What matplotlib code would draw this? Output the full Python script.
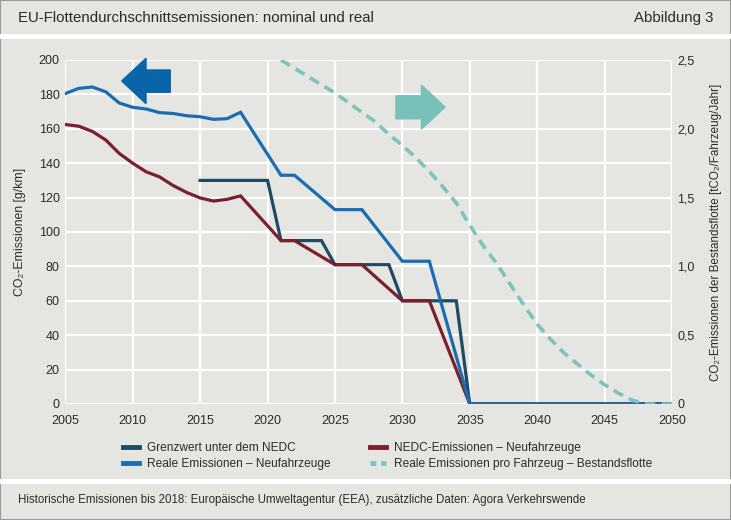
import matplotlib
matplotlib.use("Agg")
import matplotlib.pyplot as plt
from matplotlib.patches import Polygon, Rectangle
from matplotlib.lines import Line2D

plt.rcParams['font.family'] = ['Liberation Sans', 'DejaVu Sans']

# data
grenz_years = [2015, 2020, 2021, 2024, 2025, 2029, 2030, 2034, 2035, 2050]
grenz_vals = [130, 130, 95, 95, 81, 81, 60, 60, 0, 0]

nedc_years = [2005, 2006, 2007, 2008, 2009, 2010, 2011, 2012, 2013, 2014, 2015, 2016, 2017, 2018,
              2021, 2022, 2025, 2027, 2030, 2032, 2035, 2050]
nedc_vals = [162.5, 161.5, 158.5, 153.5, 145.7, 140, 135, 132, 127, 123, 119.8, 118, 119, 121,
             95, 95, 81, 81, 60, 60, 0, 0]

real_years = [2005, 2006, 2007, 2008, 2009, 2010, 2011, 2012, 2013, 2014, 2015, 2016, 2017, 2018,
              2021, 2022, 2025, 2027, 2030, 2032, 2035, 2050]
real_vals = [180.5, 183.5, 184.3, 181.5, 175, 172.5, 171.5, 169.4, 168.9, 167.6, 167, 165.5, 165.9, 169.6,
             133, 133, 113, 113, 83, 83, 0, 0]

fleet_years = list(range(2021, 2051))
fleet_vals = [2.50, 2.44, 2.38, 2.32, 2.26, 2.19, 2.12, 2.05, 1.96, 1.88,
              1.79, 1.69, 1.58, 1.46, 1.30, 1.15, 1.02, 0.87, 0.72, 0.58,
              0.47, 0.37, 0.29, 0.21, 0.14, 0.08, 0.03, 0.0, 0.0, 0.0]

x_ticks = list(range(2005, 2051, 5))
y_ticks = list(range(0, 201, 20))
y2_ticks = [0, 0.5, 1.0, 1.5, 2.0, 2.5]
y2_labels = ['0', '0,5', '1,0', '1,5', '2,0', '2,5']

c_navy = '#1f4a63'
c_red = '#7a1f2b'
c_blue = '#1a6db0'
c_teal = '#7dc3bc'
bg = '#e5e5e1'
txt = '#2b2b2b'

fig = plt.figure(figsize=(7.31, 5.2), dpi=100, facecolor=bg)
ax = fig.add_axes([65.3 / 731, 1 - 404 / 520, (672 - 65.3) / 731, 344 / 520])
ax.set_facecolor(bg)
ax2 = ax.twinx()

for s in list(ax.spines.values()) + list(ax2.spines.values()):
    s.set_visible(False)

ax.set_xlim(2005, 2050)
ax.set_ylim(0, 200)
ax2.set_ylim(0, 2.5)
ax.set_xticks(x_ticks)
ax.set_yticks(y_ticks)
ax2.set_yticks(y2_ticks)
ax2.set_yticklabels(y2_labels)
ax.grid(True, color='white', linewidth=1.6)
ax.set_axisbelow(True)
ax.tick_params(axis='both', length=0, labelsize=9, colors=txt)
ax.tick_params(axis='x', pad=8)
ax.tick_params(axis='y', pad=4)
ax2.tick_params(axis='y', length=0, labelsize=9, colors=txt, pad=4)

lw = 2.3
ax.plot(grenz_years, grenz_vals, color=c_navy, lw=lw, solid_joinstyle='miter', zorder=3)
ax.plot(nedc_years, nedc_vals, color=c_red, lw=lw, solid_joinstyle='miter', zorder=3)
ax.plot(real_years, real_vals, color=c_blue, lw=lw, solid_joinstyle='miter', zorder=4)
ax2.plot(fleet_years, fleet_vals, color=c_teal, lw=2.6, dashes=(2.9, 1.8), zorder=5)

ax.set_ylabel('CO₂-Emissionen [g/km]', fontsize=8.8, color=txt, labelpad=9)
ax2.set_ylabel('CO₂-Emissionen der Bestandsflotte [tCO₂/Fahrzeug/Jahr]', fontsize=8.4, color=txt, labelpad=11)

# arrows (axes fraction)
blue_arrow = [(0.093, 0.939), (0.133, 1.005), (0.133, 0.971), (0.173, 0.971),
              (0.173, 0.906), (0.133, 0.906), (0.133, 0.873)]
ax2.add_patch(Polygon(blue_arrow, closed=True, transform=ax.transAxes, color='#0a64a8', zorder=6, clip_on=False))
teal_arrow = [(0.545, 0.896), (0.587, 0.896), (0.587, 0.927), (0.626, 0.863),
              (0.587, 0.799), (0.587, 0.829), (0.545, 0.829)]
ax2.add_patch(Polygon(teal_arrow, closed=True, transform=ax.transAxes, color='#78c1ba', zorder=6))

# legend
handles = [Line2D([], [], color=c_navy, lw=3.5),
           Line2D([], [], color=c_blue, lw=3.5),
           Line2D([], [], color=c_red, lw=3.5),
           Line2D([], [], color=c_teal, lw=3.5, dashes=(1.2, 1.0))]
labels = ['Grenzwert unter dem NEDC', 'Reale Emissionen – Neufahrzeuge',
          'NEDC-Emissionen – Neufahrzeuge', 'Reale Emissionen pro Fahrzeug – Bestandsflotte']
fig.legend(handles, labels, ncol=2, loc='upper left', bbox_to_anchor=(112 / 731, 1 - 431 / 520),
           frameon=False, fontsize=8.6, handlelength=1.35, handletextpad=0.65,
           columnspacing=3.3, labelspacing=0.35, labelcolor=txt)

# header / footer bands
fig.add_artist(Line2D([0, 1], [1 - 35.5 / 520, 1 - 35.5 / 520], color='white', lw=3.5))
fig.add_artist(Line2D([0, 1], [1 - 480.5 / 520, 1 - 480.5 / 520], color='white', lw=3.5))
fig.add_artist(Rectangle((0, 0), 1, 1, transform=fig.transFigure, fill=False,
                         edgecolor='#9a9a9a', lw=1.5))
fig.text(18 / 731, 1 - 18 / 520, 'EU-Flottendurchschnittsemissionen: nominal und real',
         fontsize=10.8, color=txt, va='center', ha='left')
fig.text(713 / 731, 1 - 18 / 520, 'Abbildung 3', fontsize=10.8, color=txt, va='center', ha='right')
fig.text(18 / 731, 1 - 500 / 520,
         'Historische Emissionen bis 2018: Europäische Umweltagentur (EEA), zusätzliche Daten: Agora Verkehrswende',
         fontsize=8.3, color=txt, va='center', ha='left')

fig.savefig('out.png', dpi=100, facecolor=bg)
